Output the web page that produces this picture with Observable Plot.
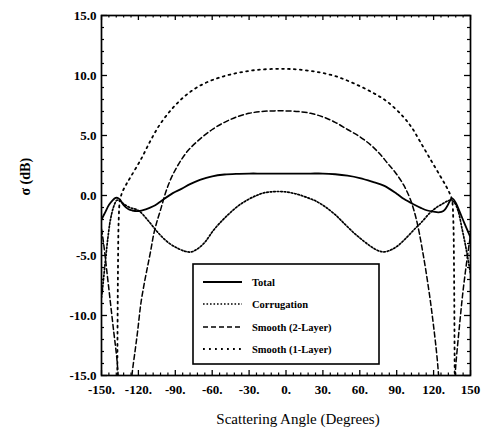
<!DOCTYPE html>
<html><head><meta charset="utf-8">
<script src="https://cdn.jsdelivr.net/npm/d3@7"></script>
<script src="https://cdn.jsdelivr.net/npm/@observablehq/plot@0.6"></script>
<style>
body{margin:0;background:#fff;}
#wrap{position:relative;width:482px;height:437px;background:#fff;}
#legend{position:absolute;left:192px;top:263px;}
</style></head>
<body><div id="wrap"><svg id="legend" width="189" height="103"></svg></div>
<script>
// ---- data ----
const totalAngle = [-150,-147,-144,-141,-138.5,-137,-135,-132,-128,-125,-120,-114,-108,-104,-100,-92,-85,-78,-70,-60,-50,-40,-30,-20,-10,0,10,20,30,40,50,60,70,80,90,96,104,110,115,120,124,128,131,133,134.5,136,138,141,145,150];
const totalValue = [-2.0,-1.4,-0.8,-0.4,-0.2,-0.2,-0.35,-0.8,-1.15,-1.25,-1.3,-1.15,-0.9,-0.65,-0.35,0.2,0.55,0.95,1.3,1.6,1.75,1.81,1.83,1.83,1.83,1.83,1.83,1.83,1.83,1.77,1.65,1.45,1.15,0.8,0.15,-0.3,-0.75,-1.05,-1.25,-1.35,-1.4,-1.3,-0.9,-0.5,-0.25,-0.3,-0.6,-1.3,-2.3,-3.5];

const corrAngle = [-150,-149,-147,-145,-142.7,-140,-137.5,-135,-132,-127,-120,-112,-104,-96,-88,-82,-77,-72,-66,-59,-52,-45,-38,-31,-24,-18,-10,-4,3,10,18,25,32,40,48,55,62,69,75,80,86,92,99,105,110,117,123,128,131.5,134,137,140,143,146,150];
const corrValue = [-8.5,-7.6,-5.6,-3.7,-2.0,-0.9,-0.4,-0.45,-0.7,-1.0,-1.25,-2.1,-3.1,-3.9,-4.4,-4.65,-4.7,-4.45,-3.9,-2.9,-2.1,-1.4,-0.8,-0.35,0,0.22,0.32,0.33,0.25,0.08,-0.2,-0.5,-0.95,-1.6,-2.4,-3.1,-3.7,-4.25,-4.6,-4.7,-4.5,-4.1,-3.4,-2.75,-2.25,-1.45,-0.95,-0.65,-0.45,-0.4,-0.6,-1.3,-2.7,-4.2,-6.5];

const smooth2Angle = [-127,-125,-122.5,-120.5,-118,-115,-112.5,-110,-107.5,-105,-102,-98,-94,-88,-80,-70,-60,-50,-40,-30,-20,-10,0,10,20,30,40,50,60,69,76,82.5,89,95.5,101,106,111,116,120,123,125.5];
const smooth2Value = [-17,-14.75,-12.8,-11.2,-9.0,-7.2,-5.9,-4.6,-3.2,-2.2,-1.2,0.2,1.3,2.5,3.7,4.7,5.5,6.1,6.55,6.85,7.0,7.05,7.05,7.0,6.85,6.55,6.1,5.5,4.9,4.2,3.5,2.7,1.9,0.9,-0.3,-2.0,-4.6,-7.8,-10.9,-13.7,-17];
const smooth2LeftAngle = [-150,-148.4,-146,-143,-140,-137.5,-135.5];
const smooth2LeftValue = [-2.8,-3.9,-6.0,-8.7,-11.4,-13.6,-16.5];
const smooth2RightAngle = [136.5,138,141,144,147.6,150];
const smooth2RightValue = [-16.5,-14.2,-10.9,-7.9,-5.0,-3.3];

const smooth1Angle = [-137.2,-136.6,-136,-135,-133,-130,-126,-118,-110,-102,-92,-82,-70,-55,-40,-25,-10,0,10,25,40,55,70,82.5,95,102,109,117.5,125.5,130,133,135,136,136.6,137.2];
const smooth1Value = [-16,-6,-2,-0.4,0.3,0.9,1.6,3.0,4.6,6.0,7.3,8.3,9.15,9.8,10.2,10.45,10.55,10.55,10.5,10.3,9.95,9.35,8.6,7.8,6.6,5.7,4.5,3.0,1.6,0.8,0.2,-0.4,-2,-6,-16];

const xTickValues = [-150,-120,-90,-60,-30,0,30,60,90,120,150];
const xTickLabels = ["-150.","-120.","-90.","-60.","-30.","0.","30.","60.","90.","120.","150"];
const yTickValues = [-15,-10,-5,0,5,10,15];
const yTickLabels = ["-15.0","-10.0","-5.0","0.0","5.0","10.0","15.0"];
const legendNames = ["Total","Corrugation","Smooth (2-Layer)","Smooth (1-Layer)"];

// ---- build tables ----
function rows(angles, values, seg){ return angles.map((a,i)=>({angle:a, value:values[i], seg})); }
const totalRows = rows(totalAngle, totalValue, "t");
const corrRows = rows(corrAngle, corrValue, "c");
const smooth2Rows = [...rows(smooth2LeftAngle, smooth2LeftValue, "l"), ...rows(smooth2Angle, smooth2Value, "m"), ...rows(smooth2RightAngle, smooth2RightValue, "r")];
const smooth1Rows = rows(smooth1Angle, smooth1Value, "s");

const styles = [
  {dash: null, width: 1.8},
  {dash: "1.6,1.9", width: 1.7},
  {dash: "5,3", width: 1.5},
  {dash: "1.8,4.2", width: 1.8}
];

const W = 482, H = 437, mL = 101, mR = 12, mT = 15, mB = 62;
const fw = W - mL - mR, fh = H - mT - mB;
const xMinor = d3.range(-150, 150.1, 6).filter(v => !xTickValues.includes(v));
const yMinor = d3.range(-15, 15.1, 1).filter(v => !yTickValues.includes(v));
const xLab = new Map(xTickValues.map((v,i)=>[v, xTickLabels[i]]));
const yLab = new Map(yTickValues.map((v,i)=>[v, yTickLabels[i]]));

const lineOpts = (s) => ({x: "angle", y: "value", z: "seg", stroke: "black", strokeWidth: s.width, strokeDasharray: s.dash, curve: "catmull-rom", clip: true});

const chart = Plot.plot({
  width: W, height: H, marginLeft: mL, marginRight: mR, marginTop: mT, marginBottom: mB,
  x: {domain: [-150, 150]},
  y: {domain: [-15, 15]},
  style: {fontFamily: "'Liberation Serif', 'DejaVu Serif', serif", background: "white", color: "black"},
  marks: [
    Plot.line(smooth1Rows, lineOpts(styles[3])),
    Plot.line(smooth2Rows, lineOpts(styles[2])),
    Plot.line(corrRows, lineOpts(styles[1])),
    Plot.line(totalRows, lineOpts(styles[0])),
    // inward ticks: bottom / top
    Plot.tickX(xTickValues, {x: d => d, insetTop: fh - 5, strokeWidth: 1.3}),
    Plot.tickX(xTickValues, {x: d => d, insetBottom: fh - 5, strokeWidth: 1.3}),
    Plot.tickX(xMinor, {x: d => d, insetTop: fh - 2.5, strokeWidth: 1.2}),
    Plot.tickX(xMinor, {x: d => d, insetBottom: fh - 2.5, strokeWidth: 1.2}),
    // inward ticks: left / right
    Plot.tickY(yTickValues, {y: d => d, insetRight: fw - 6, strokeWidth: 1.3}),
    Plot.tickY(yTickValues, {y: d => d, insetLeft: fw - 6, strokeWidth: 1.3}),
    Plot.tickY(yMinor, {y: d => d, insetRight: fw - 3, strokeWidth: 1.2}),
    Plot.tickY(yMinor, {y: d => d, insetLeft: fw - 3, strokeWidth: 1.2}),
    Plot.frame({strokeWidth: 1.7}),
    Plot.axisX(xTickValues, {tickSize: 0, tickPadding: 9, tickFormat: d => xLab.get(d), fontSize: 13, fontWeight: "bold", label: null}),
    Plot.axisY(yTickValues, {tickSize: 0, tickPadding: 5, tickFormat: d => yLab.get(d), fontSize: 13, fontWeight: "bold", label: null}),
    Plot.text(["Scattering Angle (Degrees)"], {frameAnchor: "bottom", dy: 48, text: d => d, fontSize: 15, dx: 12}),
    Plot.text(["σ (dB)"], {frameAnchor: "left", dx: -76, rotate: -90, text: d => d, fontSize: 14, fontWeight: "bold"})
  ]
});
document.getElementById("wrap").prepend(chart);

// ---- legend overlay ----
const lg = d3.select("#legend");
lg.append("rect").attr("x", 1).attr("y", 1).attr("width", 186).attr("height", 100)
  .attr("fill", "white").attr("stroke", "black").attr("stroke-width", 1.6);
const rowY = [19, 41, 64, 86];
legendNames.forEach((name, i) => {
  const s = styles[i];
  lg.append("line").attr("x1", 11).attr("x2", 50).attr("y1", rowY[i]).attr("y2", rowY[i])
    .attr("stroke", "black").attr("stroke-width", s.width).attr("stroke-dasharray", s.dash);
  lg.append("text").attr("x", 60).attr("y", rowY[i]).attr("dy", "0.35em")
    .attr("font-family", "'Liberation Serif', serif").attr("font-weight", "bold").attr("font-size", 10.5)
    .text(name);
});
</script>
</body></html>
